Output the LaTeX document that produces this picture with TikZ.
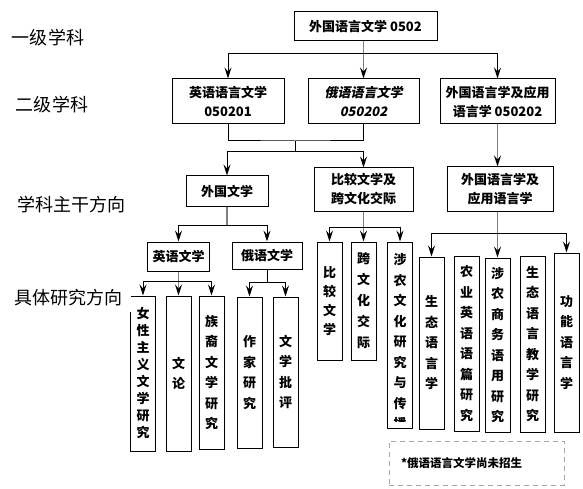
\documentclass[tikz,border=0pt]{standalone}
\usepackage{fontspec}
\usetikzlibrary{arrows.meta}
\newfontfamily\cjk{Noto Sans CJK SC}
\newfontfamily\cjkit{Noto Sans CJK SC}[FakeSlant=0.2]

\begin{document}
\begin{tikzpicture}[x=1pt, y=-1pt,
    box/.style={draw, line width=1pt, inner sep=0pt, align=center,
        font=\cjk\bfseries\fontsize{13}{19}\selectfont},
    vbox/.style={draw, line width=1pt, inner sep=0pt, minimum width=25, align=center,
        font=\cjk\bfseries\fontsize{13}{#1}\selectfont},
    vbox/.default=20.5,
    level/.style={font=\cjk\fontsize{18}{18}\selectfont},
    link/.style={line width=1pt},
    stem/.style={line width=1.6pt, gray},
    arr/.style={-{Stealth[length=11pt, width=7pt, inset=4pt, color=black]}},
    note/.style={draw=gray!70, line width=1pt, dash pattern=on 5pt off 4pt,
        inner xsep=12pt, text width=151, minimum height=44, align=left,
        font=\cjk\bfseries\fontsize{11.5}{14}\selectfont}]
    \useasboundingbox (0,0) rectangle (583,489);

    % 层级名称
    \node[level] (l1) at (48,38) {一级学科};
    \node[level] (l2) at (52,105) {二级学科};
    \node[level] (l3) at (71,205) {学科主干方向};

    % 一级、二级学科
    \node[box, minimum width=143, minimum height=29] (top) at (365.5,26.5) {外国语言文学 0502};
    \node[box, minimum width=112, minimum height=45] (en) at (228,101.5) {英语语言文学\\050201};
    \node[box, minimum width=111, minimum height=45, font=\cjkit\bfseries\fontsize{13}{19}\selectfont] (ru) at (363.5,101.5) {俄语语言文学\\050202};
    \node[box, minimum width=115, minimum height=45] (ling) at (497.5,101.5) {外国语言学及应用\\语言学 050202};

    % 学科主干方向
    \node[box, minimum width=82, minimum height=30] (lit) at (227,191) {外国文学};
    \node[box, minimum width=99, minimum height=43] (comp) at (363.5,189.5) {比较文学及\\跨文化交际};
    \node[box, minimum width=106, minimum height=44] (appl) at (500,189) {外国语言学及\\应用语言学};
    \node[box, minimum width=62, minimum height=29] (enlit) at (178.5,256.5) {英语文学};
    \node[box, minimum width=70, minimum height=27] (rulit) at (267,255.5) {俄语文学};

    % 具体研究方向
    \node[vbox=17, minimum height=155] (fem) at (143,373.5) {女\\性\\主\\义\\文\\学\\研\\究};
    \node[vbox, minimum height=155] (wenlun) at (178.5,373.5) {文\\论};
    \node[vbox, minimum height=153] (ethnic) at (211.5,372.5) {族\\裔\\文\\学\\研\\究};
    \node[vbox, minimum height=151] (writer) at (249.5,372.5) {作\\家\\研\\究};
    \node[vbox, minimum height=150] (crit) at (285.5,372) {文\\学\\批\\评};
    \node[vbox=19, minimum height=118] (bijiao) at (329.5,301) {比\\较\\文\\学};
    \node[vbox=21, minimum height=118] (kuawen) at (363.5,301) {跨\\文\\化\\交\\际};
    \node[vbox, minimum height=186] (shenong) at (400,335) {};
    \begin{scope}
        \clip (shenong.north west) rectangle ([yshift=7pt]shenong.south east);
        \node[vbox, draw=none] (shenongtxt) at (400,342) {涉\\农\\文\\化\\研\\究\\与\\传\\播};
    \end{scope}
    \node[vbox, minimum height=172] (eco) at (431.5,343) {生\\态\\语\\言\\学};
    \node[vbox, minimum height=175] (agri) at (466.5,343.5) {农\\业\\英\\语\\语\\篇\\研\\究};
    \node[vbox, minimum height=174] (biz) at (497.5,345) {涉\\农\\商\\务\\语\\用\\研\\究};
    \node[vbox, minimum height=176] (ecoteach) at (532.5,344) {生\\态\\语\\言\\教\\学\\研\\究};
    \node[vbox, minimum height=179] (func) at (566.5,342.5) {功\\能\\语\\言\\学};

    \node[level, fill=white, inner xsep=9pt, inner ysep=6pt] (l4) at (68,298) {具体研究方向};

    % 连线
    \coordinate (b1) at (365,54);
    \draw[stem, arr] (ru.north |- top.south) -- (ru.north);
    \draw[link, arr] (b1) -| (en.north);
    \draw[link, arr] (b1) -| (ling.north);

    \coordinate (j1) at (295,141);
    \coordinate (j2) at (295,152);
    \draw[link] (en.south) |- (j1) -| (ru.south);
    \draw[link] (j1) -- (j2);
    \draw[link, arr] (j2) -| (lit.north);
    \draw[link, arr] (j2) -| (comp.north);

    \draw[stem, arr] (ling.south) -- (ling.south |- appl.north);

    \coordinate (b3) at (227,225);
    \draw[stem] (lit.south) -- (b3);
    \draw[link, arr] (b3) -| (enlit.north);
    \draw[link, arr] (b3) -| (rulit.north);

    \coordinate (b4) at (363.5,227);
    \draw[stem, arr] (comp.south) -- (kuawen.north);
    \draw[link, arr] (b4) -| (bijiao.north);
    \draw[link, arr] (b4) -| (shenong.north);

    \coordinate (b5) at (497.5,233);
    \draw[stem, arr] (biz.north |- appl.south) -- (biz.north);
    \draw[link, arr] (b5) -| (eco.north);
    \draw[link, arr] (b5) -| (func.north);

    \coordinate (b6) at (178.5,281);
    \draw[stem, arr] (enlit.south) -- (wenlun.north);
    \draw[link, arr] (b6) -| (fem.north);
    \draw[link, arr] (b6) -| (ethnic.north);

    \coordinate (b7) at (267,282);
    \draw[link] (rulit.south) -- (b7);
    \draw[link, arr] (b7) -| (writer.north);
    \draw[link, arr] (b7) -| (crit.north);

    % 备注
    \node[note] (memo) at (476.5,463) {\raisebox{-3pt}{*俄语语言文学尚未招生}};
\end{tikzpicture}
\end{document}
